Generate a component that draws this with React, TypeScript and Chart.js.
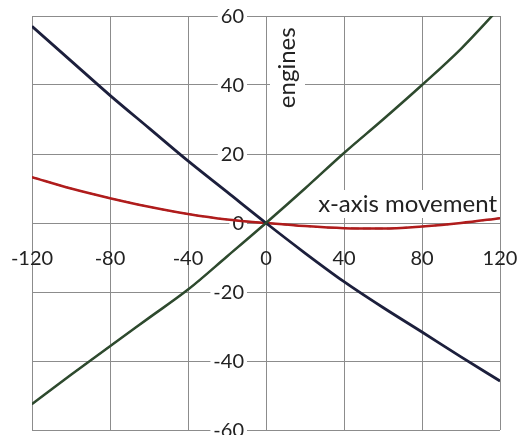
import React, { useEffect, useRef } from "react";
import { Chart, registerables } from "chart.js";

Chart.register(...registerables);

const xValues = [-120, -100, -80, -60, -40, -20, 0, 20, 40, 60, 80, 100, 120];
const greenValues = [-52.5, -44, -35.7, -27.5, -19.3, -9.7, 0, 10, 20.3, 30, 40, 50.5, 62.5];
const navyValues = [57, 47, 37, 27.5, 18, 9, 0, -8.7, -17, -24.5, -31.6, -38.8, -45.8];
const redValues = [13.3, 10, 7.2, 4.7, 2.6, 1.0, 0, -0.9, -1.5, -1.6, -1.0, 0, 1.4];

const xTicks = [-120, -80, -40, 0, 40, 80, 120];
const yTicks = [60, 40, 20, 0, -20, -40, -60];
const xAxisTitle = "x-axis movement";
const yAxisTitle = "engines";

const FONT = "20px Lato";
const TITLE_FONT = "24px Lato";
const TEXT = "#222222";
const GRID = "#8c8c8c";

const pts = (ys: number[]) => xValues.map((x, i) => ({ x, y: ys[i] }));

const labelsPlugin = {
  id: "customLabels",
  beforeDatasetsDraw(chart: any) {
    const { ctx, scales } = chart;
    const xs = scales.x;
    const ys = scales.y;
    const x0 = xs.getPixelForValue(0);
    const y0 = ys.getPixelForValue(0);
    ctx.save();
    ctx.font = FONT;
    ctx.textAlign = "right";
    ctx.textBaseline = "middle";
    yTicks.forEach((v) => {
      const t = String(v);
      const py = ys.getPixelForValue(v);
      const w = ctx.measureText(t).width;
      const right = x0 - 22;
      ctx.fillStyle = "#ffffff";
      ctx.fillRect(right - w - 3, py - 9, w + 6, 18);
      ctx.fillStyle = TEXT;
      ctx.fillText(t, right, py + 1);
    });
    ctx.textAlign = "center";
    xTicks.forEach((v) => {
      const t = String(v);
      const px = xs.getPixelForValue(v);
      ctx.fillStyle = TEXT;
      ctx.fillText(t, px, y0 + 36);
    });
    ctx.font = TITLE_FONT;
    ctx.textAlign = "right";
    const tw = ctx.measureText(xAxisTitle).width;
    const tr = xs.right - 3;
    const ty = y0 - 19;
    ctx.fillStyle = "#ffffff";
    ctx.fillRect(tr - tw - 4, ty - 14, tw + 7, 28);
    ctx.fillStyle = TEXT;
    ctx.fillText(xAxisTitle, tr, ty);
    ctx.save();
    const ex = x0 + 21;
    const ey = ys.getPixelForValue(45);
    ctx.translate(ex, ey);
    ctx.rotate(-Math.PI / 2);
    ctx.textAlign = "center";
    const ew = ctx.measureText(yAxisTitle).width;
    ctx.fillStyle = "#ffffff";
    ctx.fillRect(-ew / 2 - 4, -17, ew + 8, 35);
    ctx.fillStyle = TEXT;
    ctx.fillText(yAxisTitle, 0, 0);
    ctx.restore();
    ctx.restore();
  },
};

export default function App() {
  const ref = useRef<HTMLCanvasElement | null>(null);
  useEffect(() => {
    if (!ref.current) return;
    const chart = new Chart(ref.current, {
      type: "scatter",
      data: {
        datasets: [
          { data: pts(greenValues), showLine: true, borderColor: "#2e4a2e", borderWidth: 2.5, pointRadius: 0, cubicInterpolationMode: "monotone" },
          { data: pts(greenValues), showLine: true, borderColor: "#111111", borderWidth: 1.3, borderDash: [6, 3], pointRadius: 0, cubicInterpolationMode: "monotone" },
          { data: pts(navyValues), showLine: true, borderColor: "#1c1f3c", borderWidth: 2.8, pointRadius: 0, cubicInterpolationMode: "monotone" },
          { data: pts(navyValues), showLine: true, borderColor: "#000000", borderWidth: 1.3, borderDash: [6, 3], pointRadius: 0, cubicInterpolationMode: "monotone" },
          { data: pts(redValues), showLine: true, borderColor: "#b01c1c", borderWidth: 2.5, pointRadius: 0, cubicInterpolationMode: "monotone" },
          { data: pts(redValues), showLine: true, borderColor: "#5a0c0c", borderWidth: 1.5, borderDash: [8, 4], pointRadius: 0, cubicInterpolationMode: "monotone" },
        ],
      },
      options: {
        responsive: false,
        animation: false,
        layout: { padding: { left: 32, right: 20, top: 16, bottom: 5 } },
        plugins: { legend: { display: false }, tooltip: { enabled: false } },
        scales: {
          x: {
            type: "linear",
            min: -120,
            max: 120,
            ticks: { stepSize: 40, display: false },
            grid: { color: GRID, lineWidth: 1, drawTicks: false },
            border: { display: false },
            afterFit: (s: any) => { s.height = 0; },
          },
          y: {
            type: "linear",
            min: -60,
            max: 60,
            ticks: { stepSize: 20, display: false },
            grid: { color: GRID, lineWidth: 1, drawTicks: false },
            border: { display: false },
            afterFit: (s: any) => { s.width = 0; },
          },
        },
      },
      plugins: [labelsPlugin],
    } as any);
    return () => chart.destroy();
  }, []);
  return (
    <div style={{ position: "absolute", left: 0, top: 0, width: 520, height: 435, background: "#fff" }}>
      <canvas ref={ref} width={520} height={435} />
    </div>
  );
}
